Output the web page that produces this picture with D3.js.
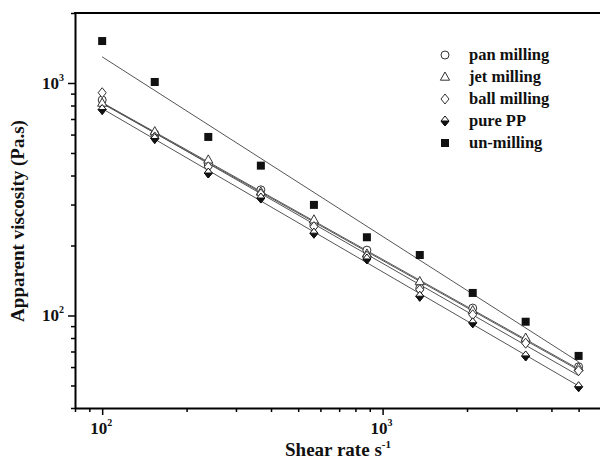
<!doctype html>
<html lang="en">
  <head>
    <title>Apparent viscosity vs shear rate</title>
    <style>
      body {
        margin: 0;
        background: #fff;
      }

      text {
        font-family: "Liberation Serif", "Times New Roman", serif;
        font-weight: bold;
        fill: #111;
      }
    </style>
  </head>
  <body>
    <div id="chart"></div>

    <script src="https://cdn.jsdelivr.net/npm/d3@7"></script>
    <script>
      // values
      const shearRate = [100, 154, 239, 368, 569, 879, 1357, 2096, 3237, 5000]
      const panMilling = [845, 604, 444, 347, 245, 191, 131, 107.6, 77.4, 60.2]
      const jetMilling = [820, 618, 467, 340, 258, 184, 140, 105, 80, 59.6]
      const ballMilling = [908, 586, 436, 333, 241, 180, 129, 100.7, 76, 57.9]
      const purePP = [769, 577, 410, 320, 226, 175, 121, 93, 67, 49.4]
      const unMilling = [1515, 1010, 586, 441, 299, 217, 182, 125, 94, 67]
      const seriesNames = ['pan milling', 'jet milling', 'ball milling', 'pure PP', 'un-milling']

      const xTicks = [80, 90, 100, 200, 300, 400, 500, 600, 700, 800, 900, 1000, 2000, 3000, 4000, 5000]
      const yTicks = [40, 50, 60, 70, 80, 90, 100, 200, 300, 400, 500, 600, 700, 800, 900, 1000, 2000]
      const majorTicks = [100, 1000]
      const majorLabels = ['2', '3']

      const width = 600
      const height = 462
      const plotLeft = 75, plotRight = 600, plotTop = 13, plotBottom = 408

      const svg = d3.select('#chart')
        .append('svg')
          .attr('width', width)
          .attr('height', height)

      const x = d3.scaleLog().domain([80, 5960]).range([plotLeft, plotRight])
      const y = d3.scaleLog().domain([40, 2000]).range([plotBottom, plotTop])

      // fit lines (power law, least squares in log-log)
      function fit(vals) {
        const lx = shearRate.map(Math.log10)
        const ly = vals.map(Math.log10)
        const mx = d3.mean(lx), my = d3.mean(ly)
        const b = d3.sum(lx, (v, i) => (v - mx) * (ly[i] - my)) / d3.sum(lx, v => (v - mx) ** 2)
        const a = my - b * mx
        return v => Math.pow(10, a + b * Math.log10(v))
      }

      const all = [panMilling, jetMilling, ballMilling, purePP, unMilling]
      const ends = [shearRate[0], shearRate[shearRate.length - 1]]

      all.forEach(vals => {
        const f = fit(vals)
        svg.append('line')
          .attr('x1', x(ends[0])).attr('y1', y(f(ends[0])))
          .attr('x2', x(ends[1])).attr('y2', y(f(ends[1])))
          .attr('stroke', '#555')
          .attr('stroke-width', 1)
      })

      // markers
      const stroke = '#333'
      function marker(g, k) {
        if (k === 0) {
          g.append('circle').attr('r', 4).attr('fill', '#fff').attr('stroke', stroke)
        } else if (k === 1) {
          g.append('path').attr('d', 'M0,-5L4.6,3.2L-4.6,3.2Z').attr('fill', '#fff').attr('stroke', stroke)
        } else if (k === 2) {
          g.append('path').attr('d', 'M0,-5L4,0L0,5L-4,0Z').attr('fill', '#fff').attr('stroke', stroke)
        } else if (k === 3) {
          g.append('path').attr('d', 'M0,-5L4,0L0,5L-4,0Z').attr('fill', '#fff').attr('stroke', '#111')
          g.append('path').attr('d', 'M-4,0L4,0L0,5Z').attr('fill', '#111').attr('stroke', '#111')
        } else {
          g.append('rect').attr('x', -4).attr('y', -4).attr('width', 8).attr('height', 8).attr('fill', '#111')
        }
      }

      all.forEach((vals, k) => {
        vals.forEach((v, i) => {
          const g = svg.append('g').attr('transform', `translate(${x(shearRate[i])},${y(v)})`)
          marker(g, k)
        })
      })

      // axes
      svg.append('g')
        .attr('transform', `translate(0,${plotBottom})`)
        .call(d3.axisBottom(x).tickValues(xTicks).tickFormat('').tickSizeOuter(0))
        .call(g => g.select('.domain').attr('stroke-width', 2))
        .call(g => g.selectAll('.tick line')
          .attr('y2', d => majorTicks.includes(d) ? 7 : 4)
          .attr('stroke-width', 1.5))

      svg.append('g')
        .attr('transform', `translate(${plotLeft},0)`)
        .call(d3.axisLeft(y).tickValues(yTicks).tickFormat('').tickSizeOuter(0))
        .call(g => g.select('.domain').attr('stroke-width', 2))
        .call(g => g.selectAll('.tick line')
          .attr('x2', d => majorTicks.includes(d) ? -7 : -4)
          .attr('stroke-width', 1.5))

      svg.append('line')
        .attr('x1', plotLeft - 1).attr('x2', plotRight)
        .attr('y1', plotTop).attr('y2', plotTop)
        .attr('stroke', '#000')
        .attr('stroke-width', 2)

      // tick labels
      majorTicks.forEach((v, i) => {
        const tx = svg.append('text')
          .attr('x', x(v) - 1)
          .attr('y', 434)
          .attr('text-anchor', 'middle')
          .attr('font-size', 17)
        tx.append('tspan').text('10')
        tx.append('tspan').attr('font-size', 10).attr('dy', -8).text(majorLabels[i])

        const ty = svg.append('text')
          .attr('x', 64)
          .attr('y', y(v) + 6)
          .attr('text-anchor', 'end')
          .attr('font-size', 17)
        ty.append('tspan').text('10')
        ty.append('tspan').attr('font-size', 10).attr('dy', -8).text(majorLabels[i])
      })

      // axis titles
      const xt = svg.append('text')
        .attr('x', 338)
        .attr('y', 456)
        .attr('text-anchor', 'middle')
        .attr('font-size', 19)
      xt.append('tspan').text('Shear rate s')
      xt.append('tspan').attr('font-size', 11).attr('dy', -8).text('-1')

      svg.append('text')
        .attr('transform', 'translate(24,221) rotate(-90)')
        .attr('text-anchor', 'middle')
        .attr('font-size', 19)
        .text('Apparent viscosity (Pa.s)')

      // legend
      seriesNames.forEach((name, k) => {
        const cy = 55 + k * 22
        const g = svg.append('g').attr('transform', `translate(445,${cy})`)
        marker(g, k)
        svg.append('text')
          .attr('x', 469)
          .attr('y', cy + 5)
          .attr('font-size', 16.5)
          .text(name)
      })
    </script>
  </body>
</html>
